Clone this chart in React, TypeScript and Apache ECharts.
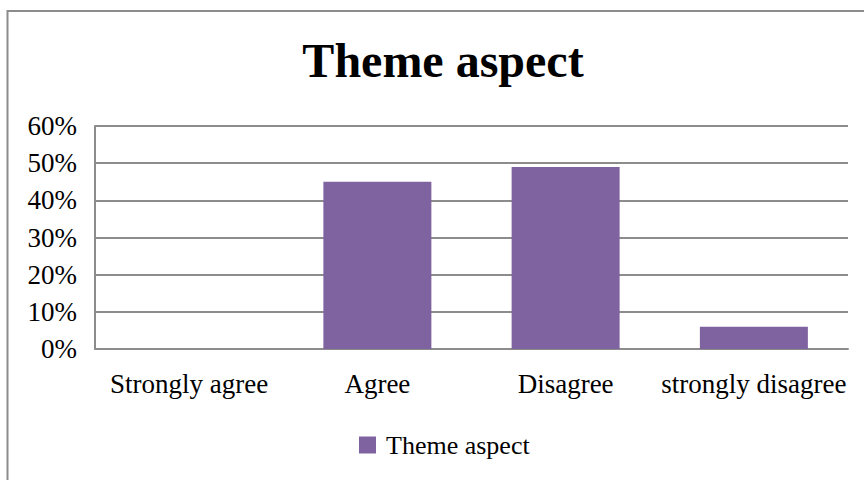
import React, { useEffect, useRef } from "react";
import * as echarts from "echarts";

const categories = ["Strongly agree", "Agree", "Disagree", "strongly disagree"];
const values = [0, 45, 49, 6];
const seriesName = "Theme aspect";
const titleText = "Theme aspect";

const FONT = "'Times New Roman', 'Liberation Serif', serif";

export default function App() {
  const ref = useRef<HTMLDivElement>(null);
  useEffect(() => {
    if (!ref.current) return;
    const chart = echarts.init(ref.current, null, { renderer: "svg" });
    chart.setOption({
      animation: false,
      backgroundColor: "#ffffff",
      title: {
        text: titleText,
        left: 438,
        textAlign: "center",
        top: 31,
        textStyle: { fontFamily: FONT, fontWeight: "bold", fontSize: 48, color: "#000" },
      },
      graphic: [
        {
          type: "rect",
          shape: { x: 7.5, y: 11, width: 900, height: 520 },
          style: { fill: "none", stroke: "#8c8c8c", lineWidth: 2 },
          silent: true,
          z: 100,
        },
      ],
      legend: {
        data: [seriesName],
        bottom: 17,
        left: 354,
        icon: "rect",
        itemWidth: 17,
        itemHeight: 17,
        textStyle: { fontFamily: FONT, fontSize: 26, color: "#000", padding: [0, 0, 0, 5] },
      },
      grid: { left: 95, right: 16, top: 126, bottom: 131, containLabel: false },
      xAxis: {
        type: "category",
        data: categories,
        axisLine: { lineStyle: { color: "#8c8c8c", width: 2 } },
        axisTick: { show: false },
        axisLabel: { fontFamily: FONT, fontSize: 27, color: "#000", margin: 21, interval: 0 },
      },
      yAxis: {
        type: "value",
        min: 0,
        max: 60,
        interval: 10,
        axisLine: { show: true, lineStyle: { color: "#8c8c8c", width: 2 } },
        axisTick: { show: false },
        splitLine: { lineStyle: { color: "#8c8c8c", width: 2 } },
        axisLabel: {
          fontFamily: FONT,
          fontSize: 27,
          color: "#000",
          margin: 18,
          formatter: (v: number) => v + "%",
        },
      },
      series: [
        {
          name: seriesName,
          type: "bar",
          data: values,
          barWidth: 108,
          itemStyle: { color: "#7F63A1" },
        },
      ],
    });
    return () => chart.dispose();
  }, []);
  return (
    <div
      ref={ref}
      style={{ position: "fixed", left: 0, top: 0, width: 864, height: 480 }}
    />
  );
}
